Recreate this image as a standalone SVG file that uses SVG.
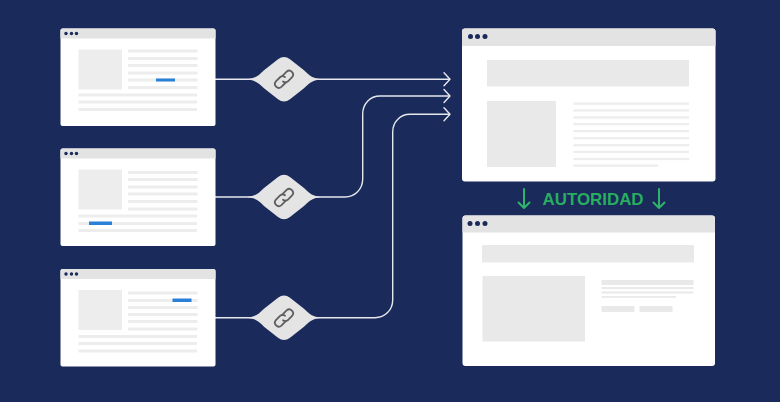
<svg xmlns="http://www.w3.org/2000/svg" width="780" height="402" viewBox="0 0 780 402">
<style>
.win{fill:#fff}.bar{fill:#e3e3e3}.dot{fill:#1a2a5a}.g{fill:#ededed}.g2{fill:#e9e9e9}.blue{fill:#2a7fd6}
.conn{fill:none;stroke:#e6e8ee;stroke-width:1.4}
.dia{fill:#e4e4e4}
.link{fill:none;stroke:#5e5e5e;stroke-width:1.8;stroke-linecap:round}
.green{fill:none;stroke:#2fb56a;stroke-width:2;stroke-linecap:round;stroke-linejoin:round}
text{font-family:"Liberation Sans",Arial,sans-serif;font-weight:700;font-size:16.9px;fill:#27ae60}
</style>
<defs>
<g id="chain">
<path class="link" d="M-1.8 -3.2 L2.6 -7.6 A3.9 3.9 0 0 1 8.1 -2.1 L3.7 2.3 A3.9 3.9 0 0 1 -1 2.2"/>
<path class="link" d="M1.8 3.2 L-2.6 7.600 A3.9 3.9 0 0 1 -8.1 2.100 L-3.7 -2.300 A3.9 3.900 0 0 1 1 -2.200"/>
</g>
<path id="diamond" class="dia" d="M-37 0 C-29 -1 -26 -3 -20 -9 L-6 -20 Q0 -24.500 6 -20 L20 -9 C26 -3 29 -1 37 0 C29 1 26 3 20 9 L6 20 Q0 24.500 -6 20 L-20 9 C-26 3 -29 1 -37 0Z"/>
<path id="chev" class="conn" d="M-6 -6.5 L0 0 L-6 6.5" stroke-linecap="round" stroke-linejoin="round"/>
<g id="smallwin">
<rect class="win" x="0" y="0" width="155" height="97.5" rx="2"/>
<path class="bar" d="M0 10V2a2 2 0 0 1 2-2H153a2 2 0 0 1 2 2V10Z"/>
<circle class="dot" cx="5.5" cy="5" r="1.7"/><circle class="dot" cx="11" cy="5" r="1.7"/><circle class="dot" cx="16" cy="5" r="1.7"/>
<rect class="g" x="18" y="21" width="43.500" height="40"/>
</g>
</defs>
<rect width="780" height="402" fill="#1a2a5a"/>
<g id="connectors">
<path class="conn" d="M215 79.300H449.500"/>
<path class="conn" d="M215 197H345C355 197 362.700 189 362.700 179V114C362.700 104 370 96 380 96H449.500"/>
<path class="conn" d="M215 317.700H375C385 317.700 392.700 310 392.700 300V132C392.700 122 400 114.300 410 114.300H449.500"/>
<use href="#chev" x="450" y="79.300"/><use href="#chev" x="450" y="96"/><use href="#chev" x="450" y="114.300"/>
</g>
<g id="page-1">
<use href="#smallwin" x="60.500" y="28.500"/>
<g class="g">
<rect x="128" y="49.500" width="69.500" height="3"/><rect x="128" y="57" width="69.500" height="3"/><rect x="128" y="64" width="69.500" height="3"/><rect x="128" y="71.500" width="69.500" height="3"/><rect x="128" y="78.500" width="69.500" height="3"/><rect x="128" y="86" width="69.500" height="3"/>
<rect x="78.500" y="93.500" width="118.500" height="3"/><rect x="78.500" y="100.500" width="118.500" height="3"/><rect x="78.500" y="108" width="118.500" height="3"/>
</g>
<rect class="blue" x="156" y="78.500" width="19" height="3"/>
</g>
<g id="page-2">
<use href="#smallwin" x="60.500" y="148.500"/>
<g class="g">
<rect x="128" y="171" width="69.500" height="3"/><rect x="128" y="178" width="69.500" height="3"/><rect x="128" y="185.500" width="69.500" height="3"/><rect x="128" y="192.500" width="69.500" height="3"/><rect x="128" y="200" width="69.500" height="3"/><rect x="128" y="207.500" width="69.500" height="3"/>
<rect x="78.500" y="214.500" width="118.500" height="3"/><rect x="78.500" y="222" width="118.500" height="3"/><rect x="78.500" y="229" width="118.500" height="3"/>
</g>
<rect class="blue" x="89" y="221.500" width="23" height="3.500"/>
</g>
<g id="page-3">
<use href="#smallwin" x="60.500" y="269"/>
<g class="g">
<rect x="128" y="291.500" width="69.500" height="3"/><rect x="128" y="299" width="69.500" height="3"/><rect x="128" y="306" width="69.500" height="3"/><rect x="128" y="313" width="69.500" height="3"/><rect x="128" y="320" width="69.500" height="3"/><rect x="128" y="327.500" width="69.500" height="3"/>
<rect x="78.500" y="335" width="118.500" height="3"/><rect x="78.500" y="342" width="118.500" height="3"/><rect x="78.500" y="349.500" width="118.500" height="3"/>
</g>
<rect class="blue" x="172.500" y="298.500" width="19" height="3.500"/>
</g>
<g id="link-1"><use href="#diamond" x="284" y="79.300"/><use href="#chain" x="284" y="79.300"/></g>
<g id="link-2"><use href="#diamond" x="284" y="197"/><use href="#chain" x="284" y="197.500"/></g>
<g id="link-3"><use href="#diamond" x="284" y="317.700"/><use href="#chain" x="284" y="318"/></g>
<g id="target-page">
<rect class="win" x="462" y="28.500" width="253.500" height="153" rx="3"/>
<path class="bar" d="M462 46V31.500a3 3 0 0 1 3-3H712.500a3 3 0 0 1 3 3V46Z"/>
<circle class="dot" cx="470.500" cy="36.500" r="2.500"/><circle class="dot" cx="477.500" cy="36.500" r="2.500"/><circle class="dot" cx="485" cy="36.500" r="2.500"/>
<rect class="g2" x="487" y="60" width="202" height="26.500"/>
<rect class="g2" x="487" y="101" width="69" height="66"/>
<g class="g">
<rect x="573.500" y="102.500" width="115.500" height="2.300"/><rect x="573.500" y="109.300" width="115.500" height="2.300"/><rect x="573.500" y="116.300" width="115.500" height="2.300"/><rect x="573.500" y="123" width="115.500" height="2.300"/><rect x="573.500" y="130" width="115.500" height="2.300"/><rect x="573.500" y="137" width="115.500" height="2.300"/><rect x="573.500" y="144" width="115.500" height="2.300"/><rect x="573.500" y="150.800" width="115.500" height="2.300"/><rect x="573.500" y="157.800" width="115.500" height="2.300"/><rect x="573.500" y="164.500" width="84.500" height="2.300"/>
</g>
</g>
<g id="authority">
<text x="542.500" y="204.500">AUTORIDAD</text>
<path class="green" d="M524 189V208M518.500 202.500L524 208L529.500 202.500"/>
<path class="green" d="M659 189V208M653.500 202.500L659 208L664.500 202.500"/>
</g>
<g id="result-page">
<rect class="win" x="462.500" y="215.500" width="252.500" height="150.500" rx="3"/>
<path class="bar" d="M462.500 232.500V218.500a3 3 0 0 1 3-3H712a3 3 0 0 1 3 3V232.500Z"/>
<circle class="dot" cx="470" cy="223.500" r="2.500"/><circle class="dot" cx="477.500" cy="223.500" r="2.500"/><circle class="dot" cx="485" cy="223.500" r="2.500"/>
<rect class="g2" x="482" y="245" width="212" height="17.500"/>
<rect class="g2" x="482.500" y="276" width="102.500" height="65.500"/>
<g class="g2">
<rect x="601.500" y="280" width="92" height="5"/><rect x="601.500" y="287" width="92" height="2"/><rect x="601.500" y="291.500" width="92" height="2"/><rect x="601.500" y="296" width="74.500" height="1.800"/>
<rect x="601.500" y="306" width="33" height="6"/><rect x="639.500" y="306" width="33" height="6"/>
</g>
</g>
</svg>
